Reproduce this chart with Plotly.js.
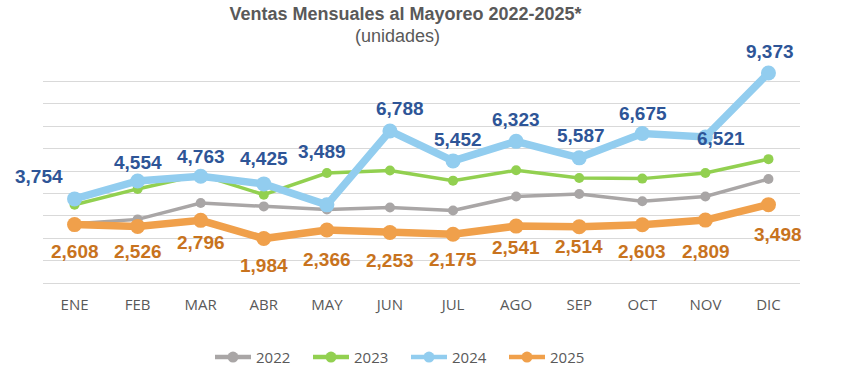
<!DOCTYPE html>
<html>
<head>
<meta charset="utf-8">
<script src="https://cdn.plot.ly/plotly-3.0.1.min.js"></script>
<style>html,body{margin:0;padding:0;background:#fff;}#chart{width:852px;height:383px;}</style>
</head>
<body>
<div id="chart"></div>
<script>
const months = ["ENE","FEB","MAR","ABR","MAY","JUN","JUL","AGO","SEP","OCT","NOV","DIC"];
const v2022 = [2650, 2840, 3570, 3420, 3280, 3370, 3240, 3860, 3970, 3650, 3860, 4640];
const v2023 = [3490, 4200, 4830, 3940, 4910, 5020, 4570, 5030, 4690, 4660, 4910, 5530];
const v2024 = [3754, 4554, 4763, 4425, 3489, 6788, 5452, 6323, 5587, 6675, 6521, 9373];
const v2025 = [2608, 2526, 2796, 1984, 2366, 2253, 2175, 2541, 2514, 2603, 2809, 3498];
const seriesNames = ["2022","2023","2024","2025"];

// label offsets (pixels) — styling only
const off2024 = [[-36,22],[0,18],[0,20],[0,25],[-5,53],[10,22],[5,21],[0,22],[2,22],[1,20],[16,-2],[2,22]];
const off2025 = [[0,-27],[0,-25],[0,-22],[0,-27],[0,-29],[0,-28],[0,-25],[0,-21],[0,-20],[0,-27],[1,-31],[10,-30]];

const fmt = v => v.toLocaleString('en-US');
const boldFont = "Liberation Sans, Arial, sans-serif";
const axisFont = "Open Sans, sans-serif";
const colors = ['#A9A6A6', '#92D050', '#92CDEF', '#F0A04B'];

function tr(name, y, color, lw, ms) {
  return {type:'scatter', mode:'lines+markers', name:name, x:months, y:y, showlegend:false,
    line:{color:color, width:lw}, marker:{color:color, size:ms}, hoverinfo:'skip'};
}
const data = [
  tr(seriesNames[0], v2022, colors[0], 3.5, 10),
  tr(seriesNames[1], v2023, colors[1], 3.5, 10),
  tr(seriesNames[2], v2024, colors[2], 7.5, 15),
  tr(seriesNames[3], v2025, colors[3], 7.5, 15)
];
// legend entries (uniform symbol size, like the reference)
seriesNames.forEach((n,i)=>data.push({type:'scatter', mode:'lines+markers', name:n, x:[null], y:[null],
  line:{color:colors[i], width:4.5}, marker:{color:colors[i], size:11}, hoverinfo:'skip', showlegend:true}));

const annotations = [];
v2024.forEach((v,i)=>annotations.push({x:months[i], y:v, xref:'x', yref:'y', text:'<b>'+fmt(v)+'</b>', showarrow:false,
  xshift:off2024[i][0], yshift:off2024[i][1], font:{family:boldFont, size:19, color:'#2E5597'}}));
v2025.forEach((v,i)=>annotations.push({x:months[i], y:v, xref:'x', yref:'y', text:'<b>'+fmt(v)+'</b>', showarrow:false,
  xshift:off2025[i][0], yshift:off2025[i][1], font:{family:boldFont, size:19, color:'#C8731E'}}));
annotations.push({xref:'paper', yref:'paper', x:(397.5-43)/757, y:(283.5-36)/224.5, xanchor:'center', yanchor:'middle',
  text:'(unidades)', showarrow:false, font:{family:boldFont, size:18, color:'#595959'}});

const layout = {
  width:852, height:383,
  margin:{l:43, r:52, t:59, b:99.5, autoexpand:false},
  paper_bgcolor:'#ffffff', plot_bgcolor:'#ffffff',
  title:{text:'<b>Ventas Mensuales al Mayoreo 2022-2025*</b>', xref:'container', yref:'container', x:405.5/852, y:1-14/383,
    xanchor:'center', yanchor:'middle', font:{family:boldFont, size:18, color:'#595959'}},
  xaxis:{type:'category', range:[-0.5,11.5], showgrid:false, showline:true, linecolor:'#D9D9D9', linewidth:1,
    ticks:'', ticklabelstandoff:8, tickfont:{family:axisFont, size:15, color:'#595959'}, fixedrange:true},
  yaxis:{range:[0,10000], dtick:1000, showgrid:true, gridcolor:'#D9D9D9', gridwidth:1, showticklabels:false,
    zeroline:false, showline:false, ticks:'', fixedrange:true},
  legend:{orientation:'h', x:(406-43)/757, xanchor:'center', y:-(358-283.5)/224.5, yanchor:'middle',
    font:{family:axisFont, size:15, color:'#595959'}, itemwidth:36, entrywidth:47, entrywidthmode:'pixels'},
  annotations:annotations,
  showlegend:true
};
Plotly.newPlot('chart', data, layout, {displayModeBar:false, staticPlot:true});
</script>
</body>
</html>
